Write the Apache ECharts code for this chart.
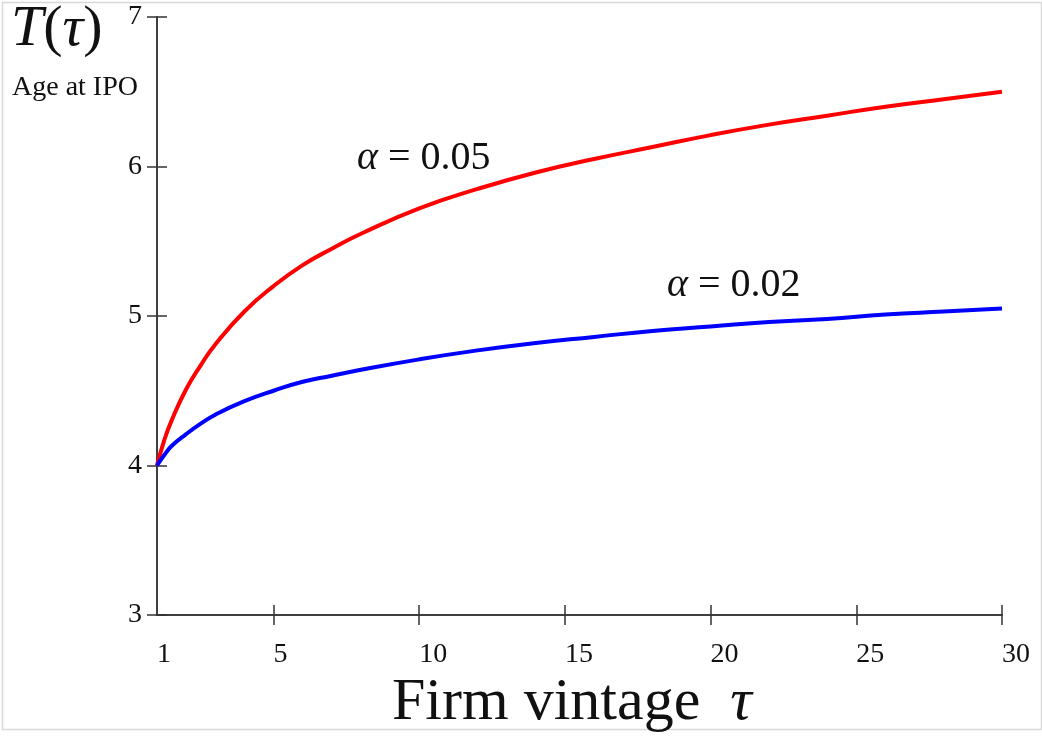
<!DOCTYPE html>
<html>
<head>
<meta charset="utf-8">
<script src="https://cdn.jsdelivr.net/npm/echarts@6/dist/echarts.min.js"></script>
<style>
html,body{margin:0;padding:0;background:#fff;}
#chart{width:1042px;height:736px;}
</style>
</head>
<body>
<div id="chart"></div>
<script>
// Firm vintage tau
const tau = [1, 1.25, 1.5, 2, 2.5, 3, 4, 5, 6, 7, 8, 10, 12, 14, 16, 18, 20, 22, 24, 26, 28, 30];
// Age at IPO, alpha = 0.05
const ageAlpha005 = [4.00, 4.17, 4.30, 4.51, 4.67, 4.81, 5.03, 5.20, 5.34, 5.45, 5.55, 5.72, 5.85, 5.96, 6.05, 6.13, 6.21, 6.28, 6.34, 6.40, 6.45, 6.50];
// Age at IPO, alpha = 0.02
const ageAlpha002 = [4.00, 4.07, 4.13, 4.21, 4.28, 4.34, 4.43, 4.50, 4.56, 4.60, 4.64, 4.71, 4.77, 4.82, 4.86, 4.90, 4.93, 4.96, 4.98, 5.01, 5.03, 5.05];
const xTickLabels = [1, 5, 10, 15, 20, 25, 30];
const xTicks = [5, 10, 15, 20, 25, 30];
const yTicks = [3, 4, 5, 6, 7];

const pair = (xs, ys) => xs.map((x, i) => [x, ys[i]]);
const serif = '"Liberation Serif", "DejaVu Serif", serif';
const axisColor = '#333';

const chart = echarts.init(document.getElementById('chart'));
const baseX = {
  type: 'value', min: 1, max: 30,
  splitLine: {show: false},
  axisLine: {show: true, onZero: false, lineStyle: {color: axisColor, width: 1.5}},
};
const baseY = {
  type: 'value', min: 3, max: 7, interval: 1,
  splitLine: {show: false},
  axisLine: {show: true, onZero: false, lineStyle: {color: axisColor, width: 1.5}},
};
chart.setOption({
  animation: false,
  backgroundColor: '#fff',
  grid: {left: 157, right: 40, top: 17, bottom: 121, containLabel: false},
  xAxis: [
    Object.assign({}, baseX, {
      axisTick: {show: true, inside: false, length: 10, customValues: xTicks, lineStyle: {color: axisColor, width: 1.5}},
      axisLabel: {show: true, customValues: xTickLabels, margin: 26, align: 'left', fontFamily: serif, fontSize: 28, color: '#111'}
    }),
    Object.assign({}, baseX, {
      position: 'bottom',
      axisTick: {show: true, inside: true, length: 10, customValues: xTicks, lineStyle: {color: axisColor, width: 1.5}},
      axisLabel: {show: false}
    })
  ],
  yAxis: [
    Object.assign({}, baseY, {
      axisTick: {show: true, inside: false, length: 10, customValues: yTicks, lineStyle: {color: axisColor, width: 1.5}},
      axisLabel: {show: true, customValues: yTicks, margin: 15, fontFamily: serif, fontSize: 28, color: '#111'}
    }),
    Object.assign({}, baseY, {
      position: 'left',
      axisTick: {show: true, inside: true, length: 10, customValues: yTicks, lineStyle: {color: axisColor, width: 1.5}},
      axisLabel: {show: false}
    })
  ],
  series: [
    {
      name: 'α = 0.05', type: 'line', smooth: true, showSymbol: false,
      data: pair(tau, ageAlpha005),
      lineStyle: {color: '#ff0000', width: 4}, itemStyle: {color: '#ff0000'}
    },
    {
      name: 'α = 0.02', type: 'line', smooth: true, showSymbol: false,
      data: pair(tau, ageAlpha002),
      lineStyle: {color: '#0000ff', width: 4}, itemStyle: {color: '#0000ff'}
    }
  ],
  graphic: [
    {type: 'rect', left: 0, top: 0, z: -1, silent: true,
     shape: {x: 0.5, y: 1.5, width: 1039, height: 727},
     style: {fill: 'none', stroke: '#d8d8d8', lineWidth: 1.5}},
    {type: 'text', left: 11, top: 1,
     style: {text: '{i|T}{n|(}{i|τ}{n|)}', rich: {
       i: {fontFamily: serif, fontStyle: 'italic', fontSize: 58, fill: '#111'},
       n: {fontFamily: serif, fontSize: 58, fill: '#111'}}}},
    {type: 'text', left: 12, top: 74,
     style: {text: 'Age at IPO', fontFamily: serif, fontSize: 28, fill: '#111'}},
    {type: 'text', left: 357, top: 138,
     style: {text: '{i|α}{n| = 0.05}', rich: {
       i: {fontFamily: serif, fontStyle: 'italic', fontSize: 40, fill: '#111'},
       n: {fontFamily: serif, fontSize: 40, fill: '#111'}}}},
    {type: 'text', left: 667, top: 265,
     style: {text: '{i|α}{n| = 0.02}', rich: {
       i: {fontFamily: serif, fontStyle: 'italic', fontSize: 40, fill: '#111'},
       n: {fontFamily: serif, fontSize: 40, fill: '#111'}}}},
    {type: 'text', left: 392, top: 673,
     style: {text: '{n|Firm vintage  }{i|τ}', rich: {
       i: {fontFamily: serif, fontStyle: 'italic', fontSize: 60, fill: '#111'},
       n: {fontFamily: serif, fontSize: 60, fill: '#111'}}}}
  ]
});
</script>
</body>
</html>
